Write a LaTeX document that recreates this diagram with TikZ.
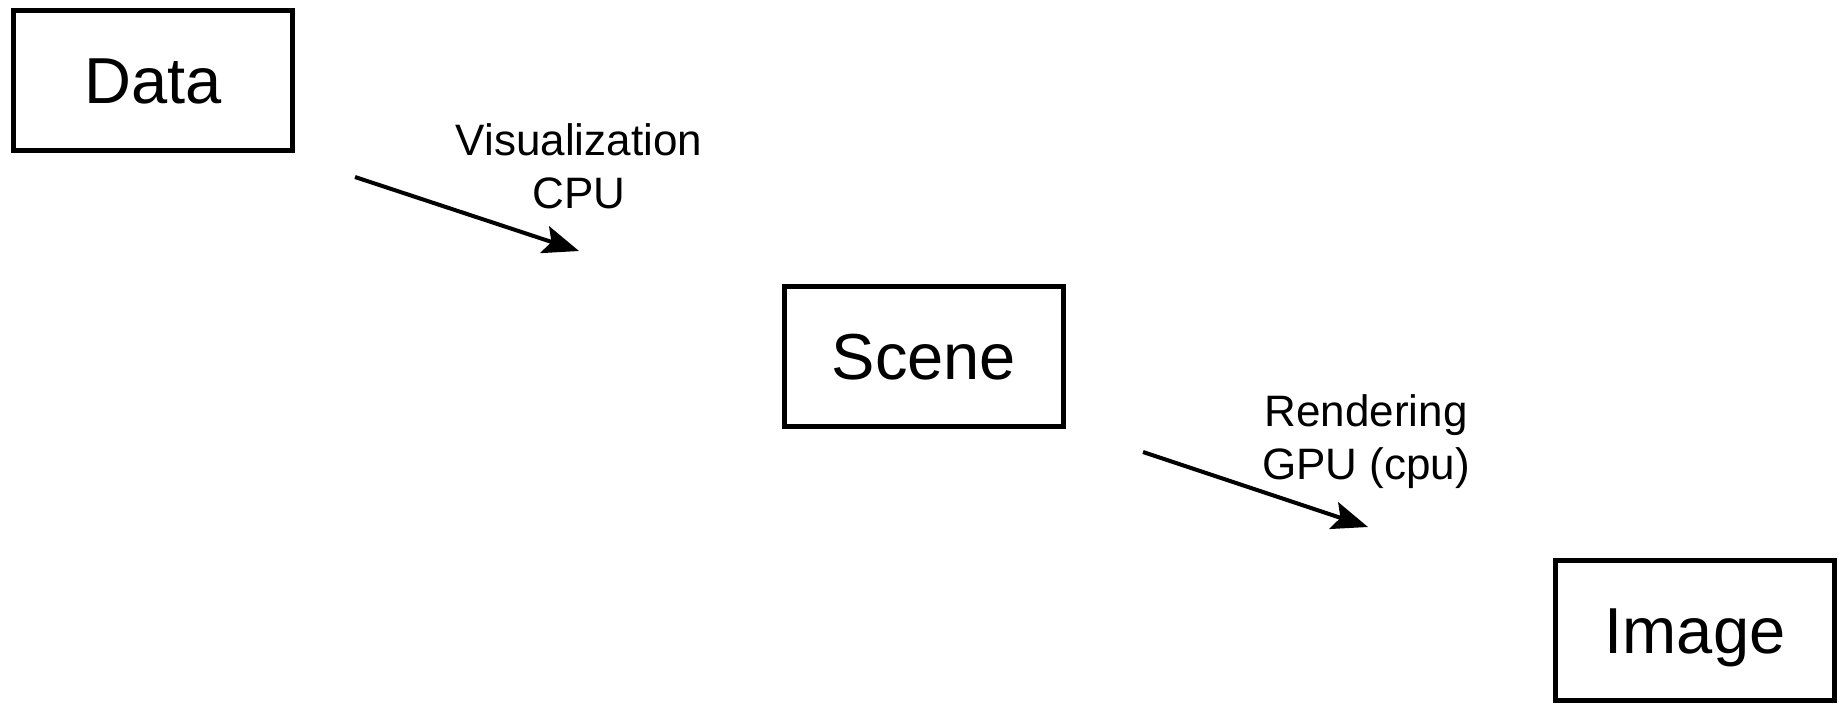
\documentclass[tikz,border=0pt]{standalone}
\usepackage{fontspec}
\setmainfont{Liberation Sans}
\usetikzlibrary{arrows.meta}
\begin{document}
\begin{tikzpicture}[x=0.5pt,y=-0.5pt,
  box/.style={draw,line width=2.5pt,minimum width=139.5pt,minimum height=70pt,inner sep=0pt,
    font=\fontsize{32.5}{39}\selectfont,text height=23.3pt,text depth=0pt},
  lbl/.style={align=center,inner sep=0pt,anchor=north,font=\fontsize{22}{26.5}\selectfont},
  conn/.style={line width=2pt,-{Stealth[length=18pt,width=14pt,inset=3.5pt]}}]
\useasboundingbox (0,0) rectangle (1844,703);
\node[box] (data) at (153,80.5) {Data};
\node[box] (scene) at (924,356) {Scene};
\node[box] (image) at (1695,630) {Image};
\coordinate (a1s) at (355,177);
\coordinate (a1e) at (579,251);
\coordinate (a2s) at (1143,452);
\coordinate (a2e) at (1368,527);
\draw[conn] (a1s) -- (a1e);
\draw[conn] (a2s) -- (a2e);
\node[lbl] (l1) at (579,123) {Visualization\\CPU};
\node[lbl] (l2) at (1366,394) {Rendering\\GPU (cpu)};
\end{tikzpicture}
\end{document}
